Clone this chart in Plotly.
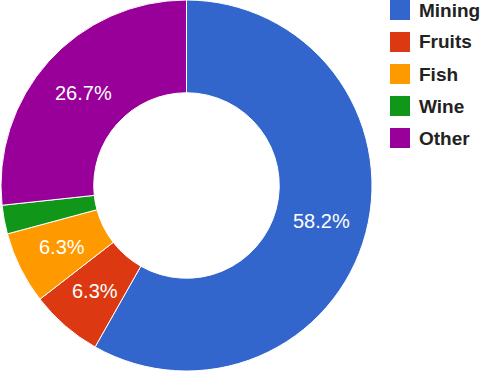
import math
import plotly.graph_objects as go

labels = ["Mining", "Fruits", "Fish", "Wine", "Other"]
values = [58.2, 6.3, 6.3, 2.5, 26.7]
colors = ["#3366cc", "#dc3912", "#ff9900", "#109618", "#990099"]
min_label_share = 0.05

W, H = 485, 371
hole = 0.5
dom_x = [0, 373 / W]
dom_y = [0, 1]

fig = go.Figure()
fig.add_trace(go.Pie(
    labels=labels,
    values=values,
    hole=hole,
    sort=False,
    direction="clockwise",
    rotation=0,
    marker=dict(colors=colors, line=dict(color="white", width=1)),
    textinfo="none",
    showlegend=False,
    hoverinfo="label+percent+value",
    domain=dict(x=dom_x, y=dom_y),
))

# slice labels at the mid radius of each slice (as in the reference)
total = sum(values)
cx = (dom_x[0] + dom_x[1]) / 2 * W
cy = (1 - (dom_y[0] + dom_y[1]) / 2) * H
R = min((dom_x[1] - dom_x[0]) * W, (dom_y[1] - dom_y[0]) * H) / 2
r_mid = R * (1 + hole) / 2
cum = 0.0
for v in values:
    share = v / total
    mid = (cum + share / 2) * 2 * math.pi
    cum += share
    if share < min_label_share:
        continue
    px = cx + r_mid * math.sin(mid)
    py = cy - r_mid * math.cos(mid)
    fig.add_annotation(xref="paper", yref="paper", x=px / W, y=1 - py / H,
                       xanchor="center", yanchor="middle", showarrow=False,
                       text=f"{share * 100:.1f}%",
                       font=dict(family="Liberation Sans, Arial", size=20, color="white"))

# custom legend (large squares like the reference)
sq = 20
x0 = 390
y_start = 0
step = 32
for i, (lab, col) in enumerate(zip(labels, colors)):
    top = y_start + i * step
    fig.add_shape(type="rect", xref="paper", yref="paper",
                  x0=x0 / W, x1=(x0 + sq) / W,
                  y0=1 - (top + sq) / H, y1=1 - top / H,
                  fillcolor=col, line=dict(width=0))
    fig.add_annotation(xref="paper", yref="paper",
                       x=(x0 + sq + 7) / W, y=1 - (top + sq / 2) / H,
                       xanchor="left", yanchor="middle",
                       text="<b>" + lab + "</b>", showarrow=False,
                       font=dict(family="Liberation Sans, Arial", size=19, color="#222222"))

fig.update_layout(
    width=W, height=H,
    margin=dict(l=0, r=0, t=0, b=0),
    paper_bgcolor="white",
    plot_bgcolor="white",
)

fig.write_html("out.html",
               config={"displayModeBar": False},
               post_script="document.body.style.margin='0';document.body.style.padding='0';")
